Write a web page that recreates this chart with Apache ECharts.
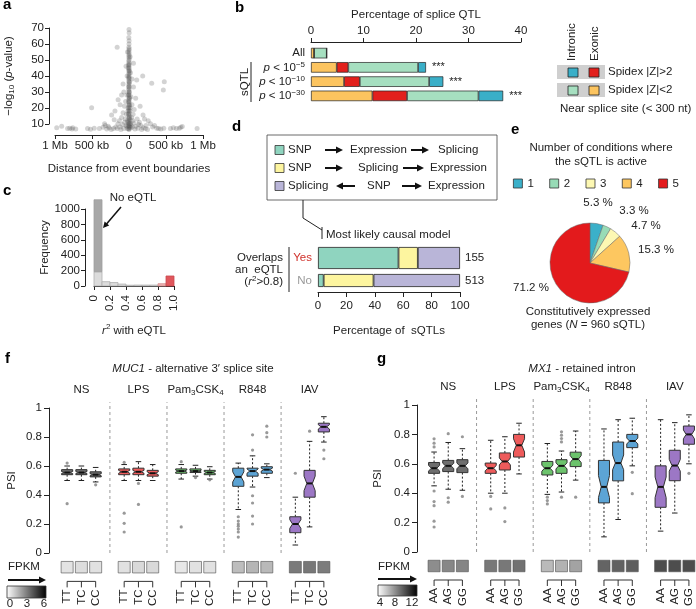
<!DOCTYPE html>
<html><head><meta charset="utf-8">
<script src="https://cdn.jsdelivr.net/npm/echarts@6/dist/echarts.min.js"></script>
<style>html,body{margin:0;padding:0;background:#fff}#c{width:696px;height:609px}</style>
</head><body><div id="c"></div>
<script>
// ================= DATA =================
// Panel a: [distance (kb), -log10 p]
const aPoints = [
 [0,69],[2,67],[-2,64],[1,62],[0,60],[-1,58],[2,57],[0,56],[-2,55],[1,54],[0,53],[-1,52],[2,51],[0,50],[-3,49],[1,48],[0,47],[-1,46],[2,45],[0,44],[-2,43],[1,42],[0,41],[-1,40],[3,39],[0,38],[-2,37],[1,36],[0,35],[-1,34],[2,33],[0,32],[-3,31],[1,30],[0,29],[-1,28],[2,27],[0,26],[-2,25],[1,24],[0,23],[-1,22],[3,21],[0,20],[-2,19],[1,18],[0,17],[-1,16],[2,15],[0,14],[-2,13],[1,12],[0,11],[-1,10],[2,9],[0,8],[-2,7],[1,6.5],
 [8,14],[-8,16],[12,18],[-12,20],[5,22],[-5,24],[8,26],[-6,28],[4,30],[-4,33],[6,36],[-5,39],[5,43],[-4,47],
 [-10,9],[10,8],[-25,7],[25,7.5],[-5,6.8],[5,10],[-15,11],[15,12.5],[30,9],[-30,8.5],
 [-20,12],[20,10],[-40,9],[45,8],[-70,7],[80,6.8],[-110,6.5],[120,7.2],[-60,11],[65,10.5],
 [-90,9.5],[95,8.5],[-120,8],[130,9.5],[-160,7],[170,6.5],[-35,16],[35,14],[-15,18],[15,20],
 [-50,13],[50,12],[-30,28],[25,27],[-45,24],[40,22],[-60,21],[70,19],[-80,17],[55,16],
 [-100,14],[110,13],[-130,12],[140,11],[-150,10],[160,9],[-180,8],[190,7.5],[-210,7],[220,7],[-240,6.5],[250,6.5],
 [-147,25],[-120,22],[-100,28],[-70,30],[60,33],[90,26],[-80,35],[40,38],[-25,40],[104,37.5],[60,48],[-40,46],[150,21],[190,15.6],[-235,15.6],[-190,18],
 [-20,55],[15,52],[-10,45],[20,42],
 [-160,58],[-505,20],[185,40],[307,35.4],[477,36.4],[464,31.2],[375,7.3],
 [-977,7.5],[-910,8.5],[-830,7],[-800,7.2],[-770,6.8],[-760,7.5],[-720,6.8],[-560,7],[-520,6.6],[-470,7.3],[-400,7],[-350,7.8],[-300,6.8],[-270,7.5],[-320,9],
 [320,8],[345,9],[400,7],[430,6.8],[470,7.2],[560,7],[600,7.5],[640,7],[680,7.3],[700,7.8],[720,8.3],[920,7],
 [-330,10],[-280,8.5],[290,10],[260,12],[-200,12.5],[210,13],[230,9]
];
const aTickVals = [-1000, -500, 0, 500, 1000];
const aTickText = ['1 Mb', '500 kb', '0', '500 kb', '1 Mb'];

// Panel b
const bRows = ['All', 'p < 10^−5', 'p < 10^−10', 'p < 10^−30'];
const bExonicLow   = [0.6, 4.9, 6.3, 11.7];
const bExonicHigh  = [0.0, 2.2, 3.0, 6.6];
const bIntronicLow = [2.4, 13.3, 13.2, 13.6];
const bIntronicHigh= [0.0, 1.5, 2.7, 4.7];
const bStars = ['', '***', '***', '***'];

// Panel c
const cBinEdges = [0, 0.1, 0.2, 0.3, 0.4, 0.5, 0.6, 0.7, 0.8, 0.9, 1.0];
const cCounts = [185, 56, 45, 25, 10, 12, 12, 12, 30, 130];
const cNoEqtl = 935;

// Panel d
const dRows = ['Yes', 'No'];
const dSnpExprSplice = [56.7, 4.0];
const dSnpSpliceExpr = [13.6, 35.1];
const dSplicingSnpExpr = [29.7, 60.9];
const dN = [155, 513];

// Panel e
const eConds = ['1', '2', '3', '4', '5'];
const eShares = [5.3, 3.3, 4.7, 15.3, 71.2];

// Panels f, g
const conds = ['NS', 'LPS', 'Pam3CSK4', 'R848', 'IAV'];
const fGenos = ['TT', 'TC', 'CC'];
const gGenos = ['AA', 'AG', 'GG'];
// [lower whisker, Q1, notch low, median, notch high, Q3, upper whisker]
const fBoxes = [
 [0.50,0.540,0.548,0.555,0.562,0.575,0.60],
 [0.50,0.540,0.548,0.555,0.562,0.575,0.60],
 [0.49,0.525,0.533,0.540,0.547,0.560,0.59],
 [0.50,0.540,0.550,0.560,0.570,0.580,0.61],
 [0.50,0.540,0.550,0.560,0.570,0.585,0.63],
 [0.50,0.530,0.540,0.550,0.560,0.570,0.61],
 [0.51,0.550,0.558,0.565,0.572,0.580,0.61],
 [0.53,0.555,0.560,0.565,0.570,0.580,0.605],
 [0.51,0.540,0.548,0.555,0.562,0.570,0.595],
 [0.30,0.460,0.490,0.525,0.560,0.585,0.62],
 [0.455,0.530,0.550,0.565,0.580,0.585,0.67],
 [0.52,0.550,0.565,0.575,0.585,0.595,0.615],
 [0.055,0.140,0.170,0.200,0.230,0.250,0.385],
 [0.18,0.385,0.430,0.480,0.530,0.570,0.77],
 [0.765,0.835,0.855,0.870,0.885,0.895,0.94]
];
const fOutliers = [
 [0.62,0.34],[],[0.47],
 [0.625,0.275,0.205,0.145],[0.48,0.335],[],
 [0.63,0.18],[0.52],[0.505],
 [0.25,0.22,0.20,0.185,0.165,0.145,0.11],[0.71,0.815,0.395,0.345,0.255,0.20],[0.80,0.83,0.875],
 [0.55],[0.84],[0.71,0.65]
];
const fFpkm = [0.83,1.0,0.9, 0.9,1.1,1.1, 0.7,0.9,0.88, 1.95,2.2,2.05, 3.9,4.0,3.85];

const gBoxes = [
 [0.45,0.535,0.550,0.570,0.590,0.609,0.68],
 [0.427,0.547,0.568,0.586,0.604,0.623,0.745],
 [0.42,0.540,0.566,0.586,0.606,0.628,0.703],
 [0.40,0.535,0.552,0.570,0.588,0.605,0.76],
 [0.40,0.558,0.592,0.616,0.640,0.674,0.784],
 [0.531,0.646,0.680,0.726,0.770,0.800,0.876],
 [0.392,0.524,0.549,0.570,0.591,0.616,0.738],
 [0.408,0.535,0.565,0.586,0.607,0.628,0.687],
 [0.489,0.581,0.608,0.632,0.656,0.679,0.823],
 [0.103,0.334,0.370,0.443,0.520,0.623,0.837],
 [0.221,0.484,0.560,0.605,0.660,0.748,0.90],
 [0.586,0.710,0.735,0.755,0.775,0.800,0.91],
 [0.142,0.304,0.370,0.443,0.510,0.586,0.90],
 [0.265,0.485,0.550,0.588,0.630,0.692,0.88],
 [0.60,0.733,0.770,0.800,0.830,0.857,0.933]
];
const gOutliers = [
 [0.715,0.74,0.77,0.415,0.343,0.315,0.21,0.17],[0.805,0.369,0.339],[0.784,0.378],
 [0.378,0.293],[0.30,0.207],[],
 [0.373,0.35,0.327],[0.749,0.772,0.795,0.818,0.373],[0.373],
 [],[],[0.542,0.397],
 [],[],[0.535]
];
const gFpkm = [8.5,8.7,8.8, 9.3,9.3,9.6, 6.7,7.0,7.6, 10.1,10.2,10.3, 11.0,11.0,11.0];

// ================= STYLE / LAYOUT =================
const FONT = 'Liberation Sans, Arial, Helvetica, sans-serif';
const FS = 11.5;
const INK = '#222';
const condColors = ['#6e6e6e', '#ee5b5b', '#6cc36c', '#5ca4d5', '#9c77c5'];
const bColors = { exLow: '#fcc45f', exHigh: '#e2201c', inLow: '#a6dfc0', inHigh: '#3aafc8' };
const dColors = ['#8fd4bf', '#fdf59f', '#b9b5d8'];
const eColors = ['#3bb0c9', '#97dbb6', '#fdf8b3', '#fdc760', '#e31a1c'];

function merge(a, b) {
  const out = Array.isArray(a) ? a.slice() : Object.assign({}, a);
  for (const k in b) {
    if (b[k] && typeof b[k] === 'object' && !Array.isArray(b[k]) && a && typeof a[k] === 'object' && !Array.isArray(a[k])) out[k] = merge(a[k], b[k]);
    else out[k] = b[k];
  }
  return out;
}
const axBase = {
  splitLine: { show: false },
  axisLine: { show: true, lineStyle: { color: INK, width: 1 } },
  axisTick: { show: true, length: 4, lineStyle: { color: INK, width: 1 } },
  axisLabel: { color: INK, fontSize: FS, fontFamily: FONT, margin: 5 },
  nameTextStyle: { color: INK, fontSize: FS, fontFamily: FONT }
};
const ax = o => merge(axBase, o);
const hidden = (gi, type, extra) => Object.assign({ gridIndex: gi, type: type || 'value', show: false }, extra || {});
const subRich = { sub: { fontSize: 8, lineHeight: 10, verticalAlign: 'bottom', fontFamily: FONT, color: INK },
                  sup: { fontSize: 8, lineHeight: 10, verticalAlign: 'top', fontFamily: FONT, color: INK },
                  i: { fontStyle: 'italic', fontSize: FS, fontFamily: FONT, color: INK } };
function condRich(c) { return c === 'Pam3CSK4' ? 'Pam{sub|3}CSK{sub|4}' : c; }

function buildCats(genos) {
  const cats = [];
  conds.forEach((c, gi) => { genos.forEach(g => cats.push(c + '|' + g)); if (gi < conds.length - 1) cats.push(c + '|gap'); });
  return cats;
}
const catF = buildCats(fGenos), catG = buildCats(gGenos);
const slotOf = i => Math.floor(i / 3) * 4 + (i % 3);

// ================= GRIDS =================
const grid = [
  { left: 49, top: 28, width: 6, height: 96 },      // 0 a y-axis
  { left: 55, top: 28, width: 148, height: 107 },   // 1 a plot
  { left: 311, top: 46, width: 210, height: 57 },   // 2 b
  { left: 85, top: 209, width: 6, height: 77 },     // 3 c y-axis
  { left: 94, top: 209, width: 80, height: 77 },    // 4 c plot
  { left: 318, top: 247, width: 142, height: 22 },  // 5 d yes
  { left: 318, top: 274, width: 142, height: 13 },  // 6 d no
  { left: 60, top: 408, width: 271, height: 145 },  // 7 f boxes
  { left: 60, top: 561, width: 271, height: 13 },   // 8 f squares
  { left: 427, top: 405, width: 269, height: 147 }, // 9 g boxes
  { left: 427, top: 560, width: 269, height: 12 }   // 10 g squares
];

const xAxis = [
  hidden(0),
  ax({ gridIndex: 1, type: 'value', min: -1000, max: 1000, interval: 500,
       axisLabel: { formatter: v => aTickText[aTickVals.indexOf(v)], margin: 5 },
       name: 'Distance from event boundaries', nameLocation: 'middle', nameGap: 28 }),
  ax({ gridIndex: 2, type: 'value', position: 'top', offset: 4, min: 0, max: 40, interval: 10,
       axisLabel: { margin: 5 },
       name: 'Percentage of splice QTL', nameLocation: 'middle', nameGap: 21 }),
  hidden(3),
  ax({ gridIndex: 4, type: 'value', min: 0, max: 1, interval: 0.2, offset: 4,
       axisLabel: { rotate: 90, margin: 5, formatter: v => v === 0 ? '0' : v.toFixed(1) },
       name: '{i|r}{sup|2} with eQTL', nameLocation: 'middle', nameGap: 33,
       nameTextStyle: { rich: subRich, lineHeight: 15 } }),
  hidden(5, 'value', { min: 0, max: 100 }),
  ax({ gridIndex: 6, type: 'value', min: 0, max: 100, interval: 20, offset: 5,
       axisTick: { length: 5 }, axisLabel: { margin: 8 },
       name: 'Percentage of  sQTLs', nameLocation: 'middle', nameGap: 33 }),
  ax({ gridIndex: 7, type: 'category', position: 'top', data: catF,
       axisLine: { show: false }, axisTick: { show: false },
       axisLabel: { interval: 0, margin: 11, lineHeight: 15, rich: subRich,
                    formatter: (v, i) => (i % 4 === 1 ? condRich(v.split('|')[0]) : '') } }),
  ax({ gridIndex: 8, type: 'category', data: catF,
       axisLine: { show: false }, axisTick: { show: false },
       axisLabel: { interval: 0, rotate: 90, margin: 16,
                    formatter: v => { const p = v.split('|')[1]; return p === 'gap' ? '' : p; } } }),
  ax({ gridIndex: 9, type: 'category', position: 'top', data: catG,
       axisLine: { show: false }, axisTick: { show: false },
       axisLabel: { interval: 0, margin: 11, lineHeight: 15, rich: subRich,
                    formatter: (v, i) => (i % 4 === 1 ? condRich(v.split('|')[0]) : '') } }),
  ax({ gridIndex: 10, type: 'category', data: catG,
       axisLine: { show: false }, axisTick: { show: false },
       axisLabel: { interval: 0, rotate: 90, margin: 16,
                    formatter: v => { const p = v.split('|')[1]; return p === 'gap' ? '' : p; } } })
];

const yAxis = [
  ax({ gridIndex: 0, type: 'value', min: 10, max: 70, interval: 10,
       name: '−log{sub|10} ({i|p}-value)', nameLocation: 'middle', nameRotate: 90, nameGap: 33,
       nameTextStyle: { rich: subRich, lineHeight: 15 } }),
  hidden(1, 'value', { min: 3, max: 70 }),
  ax({ gridIndex: 2, type: 'category', inverse: true, data: bRows,
       axisLine: { show: false }, axisTick: { show: false },
       axisLabel: { interval: 0, margin: 6, lineHeight: 14, rich: subRich,
                    formatter: v => { if (v.indexOf('^') < 0) return v; const p = v.split('^'); return '{i|p}' + p[0].slice(1) + '{sup|' + p[1] + '}'; } } }),
  ax({ gridIndex: 3, type: 'value', min: 0, max: 1000, interval: 200,
       axisLabel: { formatter: v => String(v) },
       name: 'Frequency', nameLocation: 'middle', nameRotate: 90, nameGap: 31 }),
  hidden(4, 'value', { min: 0, max: 1000 }),
  ax({ gridIndex: 5, type: 'category', data: [dRows[0]], axisLine: { show: false }, axisTick: { show: false },
       axisLabel: { margin: 6, color: '#d0312b' } }),
  ax({ gridIndex: 6, type: 'category', data: [dRows[1]], axisLine: { show: false }, axisTick: { show: false },
       axisLabel: { margin: 6, color: '#9a9a9a' } }),
  ax({ gridIndex: 7, type: 'value', min: 0, max: 1, interval: 0.2, offset: 11,
       axisTick: { length: 5 }, axisLabel: { margin: 7, formatter: v => (v === 0 || v === 1) ? String(v) : v.toFixed(1) },
       name: 'PSI', nameLocation: 'middle', nameRotate: 90, nameGap: 31 }),
  hidden(8, 'value', { min: 0, max: 1 }),
  ax({ gridIndex: 9, type: 'value', min: 0, max: 1, interval: 0.2, offset: 10,
       axisTick: { length: 5 }, axisLabel: { margin: 7, formatter: v => (v === 0 || v === 1) ? String(v) : v.toFixed(1) },
       name: 'PSI', nameLocation: 'middle', nameRotate: 90, nameGap: 33 }),
  hidden(10, 'value', { min: 0, max: 1 })
];

// ================= SERIES =================
const series = [];
series.push({ type: 'scatter', xAxisIndex: 1, yAxisIndex: 1, data: aPoints, symbolSize: 5,
  itemStyle: { color: 'rgba(85,85,85,0.32)' }, silent: true });

const bItem = (name, vals, color, extra) => Object.assign({
  type: 'bar', name, stack: 'b', xAxisIndex: 2, yAxisIndex: 2, data: vals, barWidth: 10.5,
  itemStyle: { color, borderColor: '#222', borderWidth: 0.7 } }, extra || {});
series.push(bItem('ExLow', bExonicLow, bColors.exLow));
series.push(bItem('ExHigh', bExonicHigh, bColors.exHigh));
series.push(bItem('InLow', bIntronicLow, bColors.inLow));
series.push(bItem('InHigh', bIntronicHigh, bColors.inHigh, {
  label: { show: true, position: 'right', distance: 6, fontSize: 11, color: INK, fontFamily: FONT,
           formatter: p => bStars[p.dataIndex] } }));

const cFill = ['#dcdcdc', '#eab0b0', '#e0575c', '#a8a8a8'];
const cStroke = ['#b0b0b0', '#d89090', '#c94a4f', '#a0a0a0'];
const cData = [];
cCounts.forEach((n, i) => cData.push([cBinEdges[i], cBinEdges[i + 1], 0, n, i === 8 ? 1 : (i === 9 ? 2 : 0)]));
cData.push([cBinEdges[0], cBinEdges[1], cCounts[0], cCounts[0] + cNoEqtl, 3]);
series.push({ type: 'custom', xAxisIndex: 4, yAxisIndex: 4, data: cData, silent: true,
  encode: { x: [0, 1], y: [2, 3] },
  renderItem: (params, api) => {
    const p0 = api.coord([api.value(0), api.value(3)]);
    const p1 = api.coord([api.value(1), api.value(2)]);
    const k = api.value(4);
    return { type: 'rect', shape: { x: p0[0], y: p0[1], width: p1[0] - p0[0], height: p1[1] - p0[1] },
             style: { fill: cFill[k], stroke: cStroke[k], lineWidth: 0.8 } };
  } });

const dSeries = [dSnpExprSplice, dSnpSpliceExpr, dSplicingSnpExpr];
[0, 1].forEach(r => {
  dSeries.forEach((arr, k) => {
    const s = { type: 'bar', stack: 'd' + r, xAxisIndex: 5 + r, yAxisIndex: 5 + r, data: [arr[r]], barWidth: '100%',
      itemStyle: { color: dColors[k], borderColor: '#222', borderWidth: 0.8 } };
    if (k === 2) s.label = { show: true, position: 'right', distance: 5, fontSize: FS, fontFamily: FONT, color: INK, formatter: () => String(dN[r]) };
    series.push(s);
  });
});

const eLabelPos = [[598, 203], [634, 211], [646, 226], [656, 250], [531, 288]];
series.push({ type: 'pie', center: [590, 263], radius: 40, startAngle: 90, clockwise: true,
  avoidLabelOverlap: false, silent: true,
  data: eConds.map((n, i) => ({ name: n, value: eShares[i] })),
  color: eColors,
  itemStyle: { borderColor: '#666', borderWidth: 0.5 },
  label: { show: true, formatter: p => p.value + ' %', fontSize: FS, fontFamily: FONT, color: INK },
  labelLine: { show: false },
  labelLayout: p => ({ x: eLabelPos[p.dataIndex][0], y: eLabelPos[p.dataIndex][1], align: 'center', verticalAlign: 'middle' })
});

function boxRender(params, api) {
  const xi = api.value(0);
  const cx = api.coord([xi, 0])[0];
  const Y = k => api.coord([xi, api.value(k)])[1];
  const wl = Y(1), q1 = Y(2), nlo = Y(3), med = Y(4), nhi = Y(5), q3 = Y(6), wh = Y(7);
  const hw = api.size([1, 0])[0] * 0.39, ins = hw * 0.5, cap = hw * 0.5;
  const color = condColors[Math.floor(xi / 4)];
  const dash = { stroke: '#222', lineWidth: 1, lineDash: [2, 2] };
  const solid = { stroke: '#222', lineWidth: 1 };
  return { type: 'group', children: [
    { type: 'line', shape: { x1: cx, y1: q3, x2: cx, y2: wh }, style: dash },
    { type: 'line', shape: { x1: cx, y1: q1, x2: cx, y2: wl }, style: dash },
    { type: 'line', shape: { x1: cx - cap, y1: wh, x2: cx + cap, y2: wh }, style: solid },
    { type: 'line', shape: { x1: cx - cap, y1: wl, x2: cx + cap, y2: wl }, style: solid },
    { type: 'polygon', shape: { points: [[cx - hw, q1], [cx - hw, nlo], [cx - hw + ins, med], [cx - hw, nhi], [cx - hw, q3],
        [cx + hw, q3], [cx + hw, nhi], [cx + hw - ins, med], [cx + hw, nlo], [cx + hw, q1]] },
      style: { fill: color, stroke: '#333', lineWidth: 1 } },
    { type: 'line', shape: { x1: cx - hw + ins, y1: med, x2: cx + hw - ins, y2: med }, style: { stroke: '#111', lineWidth: 2 } }
  ] };
}
function sepRender(params, api) {
  const x = api.value(0);
  const p0 = api.coord([x, 0]), p1 = api.coord([x, 1.04]);
  return { type: 'line', shape: { x1: p0[0], y1: p0[1], x2: p1[0], y2: p1[1] }, style: { stroke: '#9a9a9a', lineWidth: 1, lineDash: [3, 3] } };
}
function bracketRender(params, api) {
  const g = api.value(0);
  const xs = [0, 1, 2].map(k => api.coord([g * 4 + k, 0.5])[0]);
  const yb = params.coordSys.y + params.coordSys.height + 8;
  const st = { stroke: '#333', lineWidth: 1 };
  return { type: 'group', children: [
    { type: 'line', shape: { x1: xs[0], y1: yb, x2: xs[2], y2: yb }, style: st },
    ...xs.map(x => ({ type: 'line', shape: { x1: x, y1: yb, x2: x, y2: yb + 6 }, style: st }))
  ] };
}
const sqIdx = [];
function addPanel(boxes, outs, fpkm, xa, xs) {
  series.push({ type: 'custom', xAxisIndex: xa, yAxisIndex: xa, silent: true,
    data: [3, 7, 11, 15].map(s => [s, 0]), renderItem: sepRender });
  series.push({ type: 'custom', xAxisIndex: xa, yAxisIndex: xa, silent: true,
    data: boxes.map((b, i) => [slotOf(i)].concat(b)),
    encode: { x: 0, y: [1, 2, 3, 4, 5, 6, 7] }, renderItem: boxRender });
  const od = [];
  outs.forEach((arr, i) => arr.forEach(v => od.push([slotOf(i), v])));
  series.push({ type: 'scatter', xAxisIndex: xa, yAxisIndex: xa, data: od, symbolSize: 3.2, silent: true,
    itemStyle: { color: '#808080' } });
  sqIdx.push(series.length);
  series.push({ type: 'scatter', xAxisIndex: xs, yAxisIndex: xs, symbol: 'rect', symbolSize: [12, 11.5], silent: true,
    data: fpkm.map((v, i) => [slotOf(i), 0.5, v]),
    itemStyle: { borderColor: '#555', borderWidth: 0.8 } });
  series.push({ type: 'custom', xAxisIndex: xs, yAxisIndex: xs, silent: true,
    data: conds.map((c, g) => [g, 0.5]), renderItem: bracketRender });
}
addPanel(fBoxes, fOutliers, fFpkm, 7, 8);
addPanel(gBoxes, gOutliers, gFpkm, 9, 10);

// ================= GRAPHIC (annotations) =================
function T(x, y, text, style, rot) {
  return { type: 'text', x, y, rotation: rot || 0, z: 100, silent: true,
    style: Object.assign({ text, fill: INK, fontSize: FS, fontFamily: FONT, align: 'left', verticalAlign: 'middle' }, style || {}) };
}
function L(x1, y1, x2, y2, w, c) { return { type: 'line', z: 100, silent: true, shape: { x1, y1, x2, y2 }, style: { stroke: c || INK, lineWidth: w || 1 } }; }
function R(x, y, w, h, fill, stroke, lw) { return { type: 'rect', z: 99, silent: true, shape: { x, y, width: w, height: h }, style: { fill, stroke: stroke || null, lineWidth: lw || 0 } }; }
function arrowH(x1, x2, y) {
  const d = x2 > x1 ? 1 : -1;
  return [L(x1, y, x2 - d * 5, y, 2, '#111'),
    { type: 'polygon', z: 100, silent: true, shape: { points: [[x2, y], [x2 - d * 7, y - 3.5], [x2 - d * 7, y + 3.5]] }, style: { fill: '#111' } }];
}
const letter = (x, y, t) => T(x, y, t, { fontSize: 15, fontWeight: 'bold', fill: '#000' });
const grad = () => new echarts.graphic.LinearGradient(0, 0, 1, 0, [{ offset: 0, color: '#ffffff' }, { offset: 1, color: '#000000' }]);

const graphic = [
  letter(3, 5, 'a'), letter(235, 8, 'b'), letter(3, 191, 'c'), letter(232, 127, 'd'),
  letter(511, 130, 'e'), letter(5, 359, 'f'), letter(377, 359, 'g'),
  T(245, 82, 'sQTL', { align: 'center' }, Math.PI / 2),
  L(251, 62, 251, 102),
  T(572, 61, 'Intronic', { align: 'left' }, Math.PI / 2),
  T(595, 61, 'Exonic', { align: 'left' }, Math.PI / 2),
  R(557, 65, 48, 14, '#cfcfcf'), R(557, 83, 48, 14, '#cfcfcf'),
  R(568, 68, 10, 9, bColors.inHigh, '#222', 0.8), R(589, 68, 10, 9, bColors.exHigh, '#222', 0.8),
  R(568, 86, 10, 9, bColors.inLow, '#222', 0.8), R(589, 86, 10, 9, bColors.exLow, '#222', 0.8),
  T(608, 72, 'Spidex |Z|>2'), T(608, 90, 'Spidex |Z|<2'),
  T(560, 109, 'Near splice site (< 300 nt)'),
  T(133, 198, 'No eQTL', { align: 'center' }),
  L(121, 207, 106.5, 224, 1.5, '#111'),
  { type: 'polygon', z: 100, silent: true, shape: { points: [[103, 228], [109.2, 225.4], [104.6, 221.5]] }, style: { fill: '#111' } },
  R(267, 135, 230, 65, '#fff', '#444', 0.8),
  R(275, 145.5, 9, 9, dColors[0], '#333', 0.8), R(275, 163.5, 9, 9, dColors[1], '#333', 0.8), R(275, 181.5, 9, 9, dColors[2], '#333', 0.8),
  T(288, 150, 'SNP'), ...arrowH(325, 343, 150), T(350, 150, 'Expression'), ...arrowH(411, 429, 150), T(438, 150, 'Splicing'),
  T(288, 168, 'SNP'), ...arrowH(325, 343, 168), T(358, 168, 'Splicing'), ...arrowH(403, 424, 168), T(430, 168, 'Expression'),
  T(288, 186, 'Splicing'), ...arrowH(355, 336, 186), T(367, 186, 'SNP'), ...arrowH(402, 422, 186), T(428, 186, 'Expression'),
  { type: 'polyline', z: 100, silent: true, shape: { points: [[303, 200], [303, 218], [322, 230]] }, style: { stroke: INK, lineWidth: 1, fill: null } },
  L(322, 227, 322, 239),
  T(326, 235, 'Most likely causal model'),
  T(283, 258, 'Overlaps', { align: 'right' }),
  T(283, 270, 'an  eQTL', { align: 'right' }),
  T(283, 282, '({i|r}{sup|2}>0.8)', { align: 'right', rich: subRich, lineHeight: 15 }),
  L(289, 247, 289, 292),
  T(601, 148, 'Number of conditions where', { align: 'center' }),
  T(601, 162, 'the sQTL is active', { align: 'center' }),
  T(588, 312, 'Constitutively expressed', { align: 'center' }),
  T(588, 325, 'genes ({i|N} = 960 sQTL)', { align: 'center', rich: subRich }),
  T(193, 369, '{i|MUC1} - alternative 3′ splice site', { align: 'center', rich: subRich }),
  T(582, 369, '{i|MX1} - retained intron', { align: 'center', rich: subRich }),
  T(8, 567, 'FPKM'), ...arrowH(8, 46, 580),
  R(7, 586, 39, 12, grad(), '#333', 0.8),
  T(10, 604, '0', { align: 'center' }), T(27, 604, '3', { align: 'center' }), T(44, 604, '6', { align: 'center' }),
  T(378, 567, 'FPKM'), ...arrowH(378, 417, 579),
  R(378, 585, 39, 11, grad(), '#333', 0.8),
  T(380, 603, '4', { align: 'center' }), T(395, 603, '8', { align: 'center' }), T(412, 603, '12', { align: 'center' })
];

const option = {
  animation: false,
  textStyle: { fontFamily: FONT },
  grid, xAxis, yAxis, series, graphic,
  legend: { data: eConds, left: 513, top: 177.5, padding: 0, itemWidth: 9, itemHeight: 9, itemGap: 15.5, icon: 'rect',
            selectedMode: false, textStyle: { fontSize: FS, fontFamily: FONT, color: INK },
            itemStyle: { borderColor: '#333', borderWidth: 0.8 } },
  visualMap: [
    { type: 'continuous', show: false, seriesIndex: sqIdx[0], dimension: 2, min: 0, max: 6, inRange: { color: ['#ffffff', '#000000'] } },
    { type: 'continuous', show: false, seriesIndex: sqIdx[1], dimension: 2, min: 4, max: 12, inRange: { color: ['#ffffff', '#000000'] } }
  ]
};
const chart = echarts.init(document.getElementById('c'), null, { renderer: 'canvas' });
chart.setOption(option);
</script>
</body></html>
